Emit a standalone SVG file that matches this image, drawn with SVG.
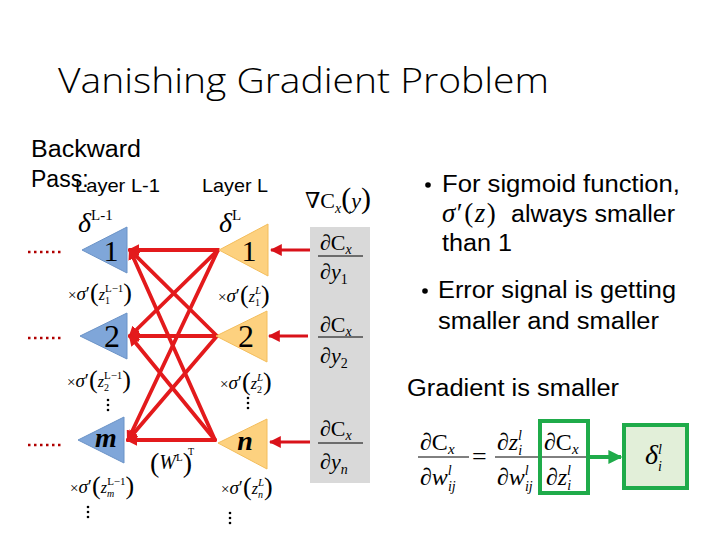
<svg xmlns="http://www.w3.org/2000/svg" width="720" height="540" viewBox="0 0 720 540">
<style>
.sans{font-family:"Liberation Sans","Open Sans",sans-serif;fill:#000}
.title{font-family:"Open Sans","Liberation Sans",sans-serif;font-weight:300;fill:#000}
.serif{font-family:"Liberation Serif","DejaVu Serif",serif;fill:#000}
.it{font-style:italic}
.blue{fill:#7fa6d9;stroke:#6b93c7;stroke-width:1}
.orange{fill:#fdd17f;stroke:#f3bd5c;stroke-width:1}
.red{stroke:#e31a1c;stroke-width:3.8;fill:none;stroke-linecap:round}
.redarrow{stroke:#d9121a;stroke-width:3;fill:none}
.dots{stroke:#b00000;stroke-width:2.5;stroke-dasharray:2.5 3.5;fill:none}
.vdots{fill:#000}
.bar{stroke:#000;stroke-width:1}
.green{fill:none;stroke:#1fab4a;stroke-width:4}
</style>
<defs>
<marker id="ah" viewBox="0 0 10 10" refX="8" refY="5" markerWidth="3" markerHeight="3" orient="auto">
<path d="M0,0 L10,5 L0,10 z" fill="#e31a1c"/>
</marker>
<marker id="ah2" viewBox="0 0 10 10" refX="9" refY="5" markerWidth="4" markerHeight="4" orient="auto">
<path d="M0,0 L10,5 L0,10 z" fill="#d9121a"/>
</marker>
<marker id="ahg" viewBox="0 0 10 10" refX="9" refY="5" markerWidth="3.5" markerHeight="3.5" orient="auto">
<path d="M0,0 L10,5 L0,10 z" fill="#1fab4a"/>
</marker>
</defs>

<!-- Title and labels -->
<text class="title" x="58" y="93" font-size="34" textLength="491" lengthAdjust="spacingAndGlyphs">Vanishing Gradient Problem</text>
<text class="sans" x="31" y="157" font-size="23" textLength="110" lengthAdjust="spacingAndGlyphs">Backward</text>
<text class="sans" x="31" y="187" font-size="23">Pass:</text>
<text class="sans" x="75" y="192" font-size="19" textLength="85" lengthAdjust="spacingAndGlyphs">Layer L-1</text>
<text class="sans" x="202" y="192" font-size="19" textLength="66" lengthAdjust="spacingAndGlyphs">Layer L</text>

<!-- delta labels -->
<text class="serif" x="78" y="232" font-size="28"><tspan class="it">δ</tspan><tspan font-size="15" dy="-12">L-1</tspan></text>
<text class="serif" x="219" y="232" font-size="28"><tspan class="it">δ</tspan><tspan font-size="15" dy="-12">L</tspan></text>

<!-- gray box -->
<g id="gradient">
<rect x="310" y="227" width="60" height="256" fill="#d9d9d9"/>
<text class="serif" x="305" y="208" font-size="22">∇C<tspan class="it" font-size="14" dy="5">x</tspan><tspan dy="-5" font-size="30">(</tspan><tspan class="it">y</tspan><tspan font-size="30">)</tspan></text>
<text class="serif" x="320" y="250" font-size="22">∂C<tspan class="it" font-size="14" dy="4">x</tspan></text>
<line class="bar" x1="318" y1="256" x2="363" y2="256"/>
<text class="serif" x="320" y="279" font-size="22">∂<tspan class="it">y</tspan><tspan font-size="14" dy="5">1</tspan></text>
<text class="serif" x="320" y="332" font-size="22">∂C<tspan class="it" font-size="14" dy="4">x</tspan></text>
<line class="bar" x1="318" y1="337" x2="363" y2="337"/>
<text class="serif" x="320" y="363" font-size="22">∂<tspan class="it">y</tspan><tspan font-size="14" dy="5">2</tspan></text>
<text class="serif" x="320" y="436" font-size="22">∂C<tspan class="it" font-size="14" dy="4">x</tspan></text>
<line class="bar" x1="318" y1="443" x2="363" y2="443"/>
<text class="serif" x="320" y="469" font-size="22">∂<tspan class="it">y</tspan><tspan class="it" font-size="14" dy="5">n</tspan></text>
</g>

<!-- connectors -->
<g id="connectors">
<line class="red" x1="218" y1="250" x2="130" y2="250" marker-end="url(#ah)"/>
<line class="red" x1="218" y1="250" x2="130" y2="336" marker-end="url(#ah)"/>
<line class="red" x1="218" y1="250" x2="128" y2="440" marker-end="url(#ah)"/>
<line class="red" x1="217" y1="336" x2="130" y2="250" marker-end="url(#ah)"/>
<line class="red" x1="217" y1="336" x2="130" y2="336" marker-end="url(#ah)"/>
<line class="red" x1="217" y1="336" x2="128" y2="440" marker-end="url(#ah)"/>
<line class="red" x1="215" y1="440" x2="130" y2="250" marker-end="url(#ah)"/>
<line class="red" x1="215" y1="440" x2="130" y2="336" marker-end="url(#ah)"/>
<line class="red" x1="215" y1="440" x2="128" y2="440" marker-end="url(#ah)"/>
<line class="redarrow" x1="310" y1="250" x2="271" y2="250" marker-end="url(#ah2)"/>
<line class="redarrow" x1="308" y1="336" x2="269" y2="336" marker-end="url(#ah2)"/>
<line class="redarrow" x1="310" y1="442" x2="270" y2="442" marker-end="url(#ah2)"/>
<line class="dots" x1="28" y1="252" x2="62" y2="252"/>
<line class="dots" x1="28" y1="338" x2="62" y2="338"/>
<line class="dots" x1="28" y1="445" x2="62" y2="445"/>
</g>

<!-- blue nodes -->
<g id="b1">
<polygon class="blue" points="82,250 127,227 127,273"/>
<text class="serif" x="111" y="261" font-size="30" text-anchor="middle">1</text>
</g>
<g id="b2">
<polygon class="blue" points="80,336 127,313 127,359"/>
<text class="serif" x="112" y="347" font-size="32" text-anchor="middle">2</text>
</g>
<g id="bm">
<polygon class="blue" points="78,440 124,417 124,463"/>
<text class="serif it" x="106" y="447" font-size="28" font-weight="bold" text-anchor="middle">m</text>
</g>

<!-- orange nodes -->
<g id="o1">
<polygon class="orange" points="219,250 268,224 268,276"/>
<text class="serif" x="249" y="261" font-size="30" text-anchor="middle">1</text>
</g>
<g id="o2">
<polygon class="orange" points="216,336 267,311 267,362"/>
<text class="serif" x="246" y="347" font-size="32" text-anchor="middle">2</text>
</g>
<g id="on">
<polygon class="orange" points="218,443 267,419 267,469"/>
<text class="serif it" x="245" y="450" font-size="28" font-weight="bold" text-anchor="middle">n</text>
</g>

<!-- sigma prime labels -->
<g id="sig-labels" class="serif">
<text x="68" y="300" font-size="15">×<tspan class="it" font-size="19">σ</tspan><tspan font-size="19">′</tspan><tspan font-size="26" dy="1">(</tspan><tspan class="it" font-size="16" dy="-1">z</tspan><tspan font-size="10" dy="4">1</tspan><tspan font-size="11" dx="-5" dy="-12">L−1</tspan><tspan font-size="26" dy="9">)</tspan></text>
<text x="218" y="302" font-size="15">×<tspan class="it" font-size="19">σ</tspan><tspan font-size="19">′</tspan><tspan font-size="26" dy="1">(</tspan><tspan class="it" font-size="16" dy="-1">z</tspan><tspan font-size="10" dy="4">1</tspan><tspan class="it" font-size="11" dx="-5" dy="-12">L</tspan><tspan font-size="26" dy="9">)</tspan></text>
<text x="67" y="387" font-size="15">×<tspan class="it" font-size="19">σ</tspan><tspan font-size="19">′</tspan><tspan font-size="26" dy="1">(</tspan><tspan class="it" font-size="16" dy="-1">z</tspan><tspan font-size="10" dy="4">2</tspan><tspan font-size="11" dx="-5" dy="-12">L−1</tspan><tspan font-size="26" dy="9">)</tspan></text>
<text x="220" y="389" font-size="15">×<tspan class="it" font-size="19">σ</tspan><tspan font-size="19">′</tspan><tspan font-size="26" dy="1">(</tspan><tspan class="it" font-size="16" dy="-1">z</tspan><tspan font-size="10" dy="4">2</tspan><tspan class="it" font-size="11" dx="-5" dy="-12">L</tspan><tspan font-size="26" dy="9">)</tspan></text>
<text x="70" y="493" font-size="15">×<tspan class="it" font-size="19">σ</tspan><tspan font-size="19">′</tspan><tspan font-size="26" dy="1">(</tspan><tspan class="it" font-size="16" dy="-1">z</tspan><tspan class="it" font-size="10" dy="4">m</tspan><tspan font-size="11" dx="-7" dy="-12">L−1</tspan><tspan font-size="26" dy="9">)</tspan></text>
<text x="221" y="494" font-size="15">×<tspan class="it" font-size="19">σ</tspan><tspan font-size="19">′</tspan><tspan font-size="26" dy="1">(</tspan><tspan class="it" font-size="16" dy="-1">z</tspan><tspan class="it" font-size="10" dy="4">n</tspan><tspan class="it" font-size="11" dx="-5" dy="-12">L</tspan><tspan font-size="26" dy="9">)</tspan></text>
<text x="150" y="472" font-size="28">(<tspan class="it" font-size="20" dy="-3">W</tspan><tspan font-size="11" dy="-8">L</tspan><tspan font-size="28" dy="11">)</tspan><tspan font-size="10" dx="-4" dy="-17">T</tspan></text>
</g>

<!-- vertical dots -->
<g id="vdots" class="vdots">
<circle cx="108" cy="400" r="1.3"/><circle cx="108" cy="405" r="1.3"/><circle cx="108" cy="410" r="1.3"/>
<circle cx="248" cy="398" r="1.3"/><circle cx="248" cy="403" r="1.3"/><circle cx="248" cy="408" r="1.3"/>
<circle cx="88" cy="507" r="1.3"/><circle cx="88" cy="512" r="1.3"/><circle cx="88" cy="517" r="1.3"/>
<circle cx="230" cy="513" r="1.3"/><circle cx="230" cy="518" r="1.3"/><circle cx="230" cy="523" r="1.3"/>
</g>

<!-- right text -->
<g id="bullets">
<circle cx="428" cy="185" r="2.8" fill="#000"/>
<text class="sans" x="442" y="192" font-size="23" textLength="238" lengthAdjust="spacingAndGlyphs">For sigmoid function,</text>
<text class="serif" x="442" y="222" font-size="27" letter-spacing="1.5"><tspan class="it">σ</tspan>′(<tspan class="it">z</tspan>)</text>
<text class="sans" x="511" y="222" font-size="23" textLength="164" lengthAdjust="spacingAndGlyphs">always smaller</text>
<text class="sans" x="442" y="251" font-size="23" textLength="70" lengthAdjust="spacingAndGlyphs">than 1</text>
<circle cx="425" cy="291" r="2.8" fill="#000"/>
<text class="sans" x="438" y="298" font-size="23" textLength="238" lengthAdjust="spacingAndGlyphs">Error signal is getting</text>
<text class="sans" x="438" y="329" font-size="23" textLength="221" lengthAdjust="spacingAndGlyphs">smaller and smaller</text>
<text class="sans" x="407" y="396" font-size="23" textLength="212" lengthAdjust="spacingAndGlyphs">Gradient is smaller</text>
</g>

<!-- formula -->
<g id="formula" class="serif">
<text x="420" y="450" font-size="24">∂C<tspan class="it" font-size="15" dy="4">x</tspan></text>
<line class="bar" x1="418" y1="457" x2="469" y2="457"/>
<text x="420" y="485" font-size="24">∂<tspan class="it">w</tspan><tspan class="it" font-size="14" dy="6">ij</tspan><tspan class="it" font-size="14" dx="-8" dy="-16">l</tspan></text>
<text x="472" y="465" font-size="26">=</text>
<text x="497" y="450" font-size="24">∂<tspan class="it">z</tspan><tspan class="it" font-size="14" dy="5">i</tspan><tspan class="it" font-size="14" dx="-4" dy="-15">l</tspan></text>
<line class="bar" x1="495" y1="457" x2="540" y2="457"/>
<text x="497" y="485" font-size="24">∂<tspan class="it">w</tspan><tspan class="it" font-size="14" dy="6">ij</tspan><tspan class="it" font-size="14" dx="-8" dy="-16">l</tspan></text>
</g>
<g id="box-dcdz">
<rect class="green" x="540" y="421" width="48" height="72"/>
<text class="serif" x="544" y="450" font-size="24">∂C<tspan class="it" font-size="15" dy="4">x</tspan></text>
<line class="bar" x1="542" y1="457" x2="586" y2="457"/>
<text class="serif" x="546" y="485" font-size="24">∂<tspan class="it">z</tspan><tspan class="it" font-size="14" dy="5">i</tspan><tspan class="it" font-size="14" dx="-4" dy="-15">l</tspan></text>
</g>
<g id="delta-box">
<rect x="624" y="425" width="63" height="63" fill="#e2efd9" stroke="#1fab4a" stroke-width="4"/>
<text class="serif" x="645" y="464" font-size="28"><tspan class="it">δ</tspan><tspan class="it" font-size="14" dy="7">i</tspan><tspan class="it" font-size="14" dx="-4" dy="-17">l</tspan></text>
</g>
<g id="conn-green">
<line x1="589" y1="457" x2="621" y2="457" stroke="#1fab4a" stroke-width="4" marker-end="url(#ahg)"/>
</g>
</svg>
